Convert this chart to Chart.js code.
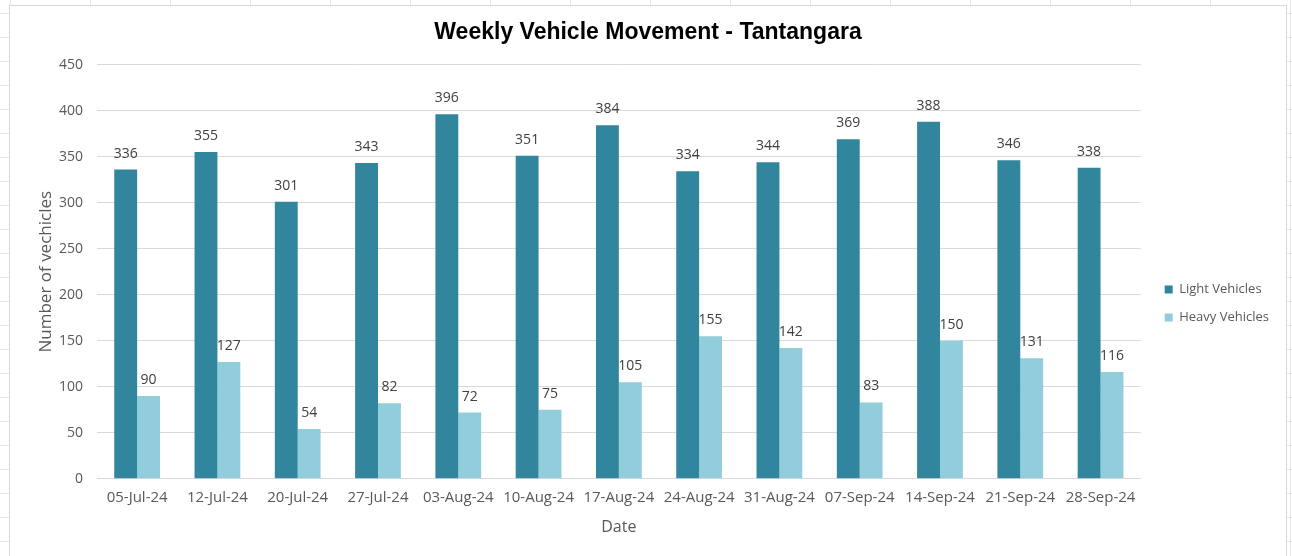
<!DOCTYPE html>
<html lang="en">
<head>
<meta charset="UTF-8" />
<title>Weekly Vehicle Movement - Tantangara</title>
<script src="https://cdn.jsdelivr.net/npm/chart.js@4"></script>
<style>
  html, body { margin: 0; padding: 0; }
  body {
    width: 1292px; height: 556px; overflow: hidden;
    background-color: #fff;
    background-image:
      linear-gradient(to bottom, transparent 13px, #e6e6e6 13px, #e6e6e6 14px, transparent 14px),
      linear-gradient(to right, transparent 10px, #e6e6e6 10px, #e6e6e6 11px, transparent 11px);
    background-size: 1292px 24px, 80px 556px;
  }
  #box {
    position: absolute; left: 9px; top: 5px; width: 1276px; height: 555px;
    border: 1px solid #d9d9d9; background: #fff;
  }
</style>
</head>
<body>
<div id="box"><canvas id="vehicleChart" width="1276" height="555"></canvas></div>
<script>
// weekly counts read from the sheet
const weeks = ['05-Jul-24', '12-Jul-24', '20-Jul-24', '27-Jul-24', '03-Aug-24', '10-Aug-24', '17-Aug-24',
  '24-Aug-24', '31-Aug-24', '07-Sep-24', '14-Sep-24', '21-Sep-24', '28-Sep-24'];
const lightVehicles = [336, 355, 301, 343, 396, 351, 384, 334, 344, 369, 388, 346, 338];
const heavyVehicles = [90, 127, 54, 82, 72, 75, 105, 155, 142, 83, 150, 131, 116];

const FONT = "'Open Sans', 'Liberation Sans', sans-serif";

// small stand-in for the datalabels plugin (no network)
const barLabels = {
  id: 'barLabels',
  afterDatasetsDraw(chart) {
    const ctx = chart.ctx;
    ctx.save();
    ctx.font = '14px ' + FONT;
    ctx.fillStyle = '#404040';
    ctx.textAlign = 'center';
    ctx.textBaseline = 'bottom';
    chart.data.datasets.forEach((ds, i) => {
      chart.getDatasetMeta(i).data.forEach((bar, j) => {
        ctx.fillText(ds.data[j], bar.x, bar.y - 9);
      });
    });
    ctx.restore();
  }
};

// nudge the legend down/right like the excel one
const legendNudge = {
  id: 'legendNudge',
  afterLayout(chart) {
    if (!chart.legend) return;
    chart.legend.top += 64;
    chart.legend.left += 9;
  }
};

const ctx = document.getElementById('vehicleChart').getContext('2d');
new Chart(ctx, {
  type: 'bar',
  data: {
    labels: weeks,
    datasets: [{
      label: 'Light Vehicles',
      data: lightVehicles,
      backgroundColor: '#31859C',
      borderWidth: 0
    }, {
      label: 'Heavy Vehicles',
      data: heavyVehicles,
      backgroundColor: '#92CDDC',
      borderWidth: 0
    }]
  },
  plugins: [barLabels, legendNudge],
  options: {
    responsive: false,
    animation: false,
    datasets: { bar: { categoryPercentage: 0.57, barPercentage: 1.0 } },
    layout: { padding: { left: 16, right: 16, top: 0, bottom: 24 } },
    plugins: {
      title: {
        display: true,
        text: 'Weekly Vehicle Movement - Tantangara',
        color: '#000',
        font: { family: "'Liberation Sans', Arial, sans-serif", size: 23, weight: 'bold' },
        padding: { top: 13, bottom: 18 }
      },
      legend: {
        position: 'right',
        labels: {
          boxWidth: 8, boxHeight: 8, padding: 15,
          color: '#595959',
          font: { family: FONT, size: 13 }
        }
      },
      tooltip: { enabled: false }
    },
    scales: {
      x: {
        grid: { display: false, drawTicks: false },
        border: { color: '#d9d9d9' },
        ticks: { color: '#595959', font: { family: FONT, size: 15 }, padding: 10, maxRotation: 0 },
        title: { display: true, text: 'Date', color: '#595959', font: { family: FONT, size: 16 }, padding: { top: 1, bottom: 0 } }
      },
      y: {
        min: 0, max: 450,
        ticks: { stepSize: 50, color: '#595959', font: { family: FONT, size: 14 }, padding: 14 },
        grid: { color: '#d9d9d9', drawTicks: false },
        border: { display: false },
        title: { display: true, text: 'Number of vechicles', color: '#595959', font: { family: FONT, size: 17 }, padding: { top: 10, bottom: 4 } },
        afterFit(scale) { scale.width = 71; }
      }
    }
  }
});
</script>
</body>
</html>
